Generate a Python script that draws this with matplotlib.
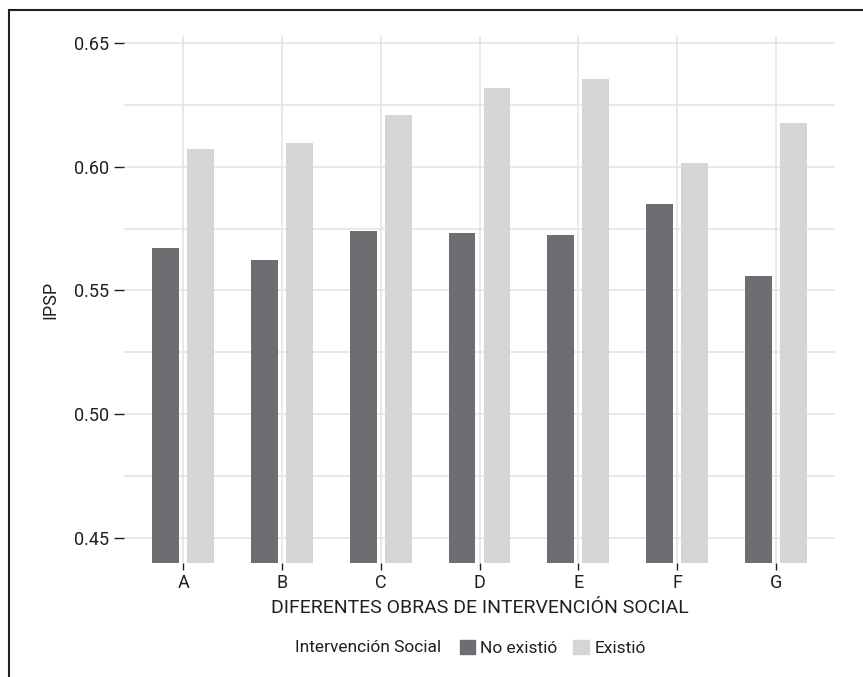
import matplotlib.pyplot as plt
import numpy as np
from matplotlib.patches import Patch, Rectangle

categories = ["A", "B", "C", "D", "E", "F", "G"]
no_existio = [0.5672, 0.5623, 0.5741, 0.5733, 0.5725, 0.5850, 0.5559]
existio = [0.6073, 0.6097, 0.6210, 0.6319, 0.6355, 0.6016, 0.6177]
series_names = ["No existió", "Existió"]
legend_title = "Intervención Social"

dark = "#6d6e71"
light = "#d4d5d7"
grid_col = "#e3e3e3"
txt = "#231f20"

plt.rcParams['font.family'] = ['Roboto', 'DejaVu Sans']

fig = plt.figure(figsize=(8.63, 6.77), dpi=100)
ax = fig.add_axes([124 / 863, 1 - 563 / 677, 711 / 863, 527 / 677])

x = np.arange(len(categories))
off = 0.177
w = 0.27
ax.bar(x - off, no_existio, width=w, color=dark, zorder=3)
ax.bar(x + off, existio, width=w, color=light, zorder=3)

ax.set_xlim(-0.6, len(categories) - 0.4)
ax.set_ylim(0.4397, 0.653)
ax.set_xticks(x)
ax.set_xticklabels(categories)
ax.set_yticks([0.45, 0.50, 0.55, 0.60, 0.65])
ax.set_yticklabels(["0.45", "0.50", "0.55", "0.60", "0.65"])
ax.set_yticks([0.475, 0.525, 0.575, 0.625], minor=True)

ax.grid(True, which='both', axis='y', color=grid_col, lw=1.1, zorder=0)
ax.grid(True, which='major', axis='x', color=grid_col, lw=1.1, zorder=0)
for s in ax.spines.values():
    s.set_visible(False)
ax.tick_params(axis='y', which='major', length=7, width=1, color=txt, labelsize=13, labelcolor=txt, pad=4)
ax.tick_params(axis='y', which='minor', length=0)
ax.tick_params(axis='x', length=5, width=1, color=txt, labelsize=13, labelcolor=txt, pad=3)

ax.set_xlabel("DIFERENTES OBRAS DE INTERVENCIÓN SOCIAL", fontsize=14, color=txt, labelpad=5)
ax.set_ylabel("IPSP", fontsize=13, color=txt, labelpad=10)

fig.text(441 / 863, 1 - 648 / 677, legend_title, fontsize=12.5, color=txt, ha='right', va='center')
handles = [Patch(color=dark), Patch(color=light)]
fig.legend(handles, series_names, loc='center left', bbox_to_anchor=(444 / 863, 1 - 648 / 677),
           ncol=2, frameon=False, fontsize=12.5, handlelength=0.9, handleheight=0.9,
           handletextpad=0.3, columnspacing=0.9, labelcolor=txt)

fig.patches.append(Rectangle((8.5 / 863, -0.1), 1.2, 1.1 - 9.5 / 677, transform=fig.transFigure,
                             fill=False, edgecolor="#222222", lw=1.5))

plt.savefig("out.png", dpi=100)
